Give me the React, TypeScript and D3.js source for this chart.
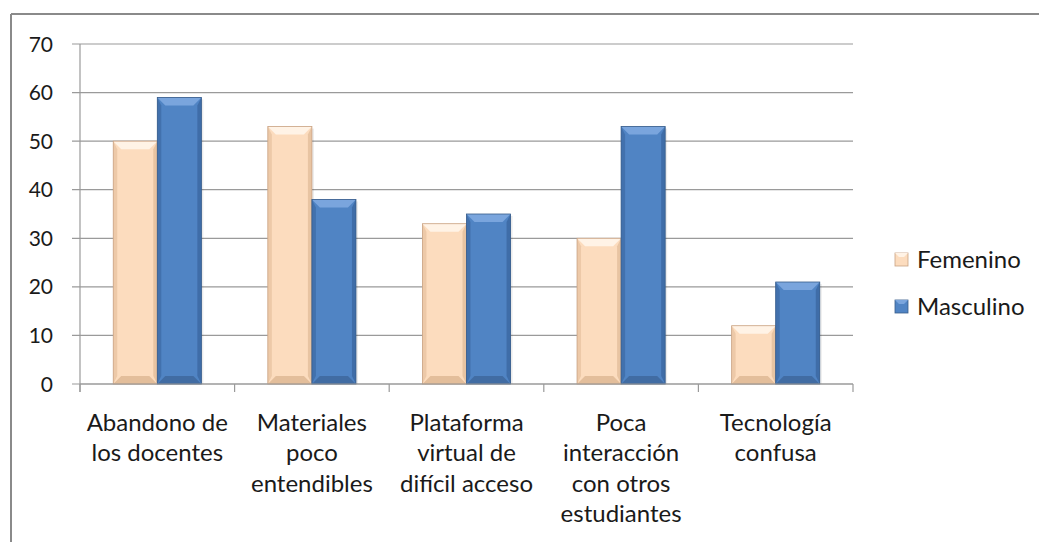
import React from "react";
import * as d3 from "d3";

const categories: string[][] = [
  ["Abandono de", "los docentes"],
  ["Materiales", "poco", "entendibles"],
  ["Plataforma", "virtual de", "difícil acceso"],
  ["Poca", "interacción", "con otros", "estudiantes"],
  ["Tecnología", "confusa"],
];
const femenino = [50, 53, 33, 30, 12];
const masculino = [59, 38, 35, 53, 21];
const seriesNames = ["Femenino", "Masculino"];
const yTicks = [0, 10, 20, 30, 40, 50, 60, 70];

const W = 1039;
const H = 542;
const plot = { left: 80, right: 853, top: 44, bottom: 384 };
const FONT = "Lato, 'Open Sans', sans-serif";

const styles = [
  { main: "#FCDCBE", top: "#FFF3E6", side: "#E8C4A2", bottom: "#D9B08C", edge: "#C9A283" },
  { main: "#5084C4", top: "#7AA5DD", side: "#3F6DA8", bottom: "#3A6396", edge: "#385D8A" },
];

function Bar({ x, y, w, h, s }: { x: number; y: number; w: number; h: number; s: number }) {
  const st = styles[s];
  const b = Math.min(8, h / 2);
  const sb = Math.min(4, w / 4);
  return (
    <g>
      <rect x={x + 2} y={y + 2} width={w} height={h - 2} fill="#000" opacity={0.08} />
      <rect x={x} y={y} width={w} height={h} fill={st.main} />
      <polygon points={`${x},${y} ${x + w},${y} ${x + w - b},${y + b} ${x + b},${y + b}`} fill={st.top} />
      <polygon points={`${x},${y} ${x + sb},${y + b} ${x + sb},${y + h - b} ${x},${y + h}`} fill={st.side} opacity={0.8} />
      <polygon points={`${x + w},${y} ${x + w - sb},${y + b} ${x + w - sb},${y + h - b} ${x + w},${y + h}`} fill={st.side} />
      <polygon points={`${x},${y + h} ${x + w},${y + h} ${x + w - b},${y + h - b} ${x + b},${y + h - b}`} fill={st.bottom} opacity={0.7} />
      <rect x={x} y={y} width={w} height={h} fill="none" stroke={st.edge} strokeWidth={0.8} />
    </g>
  );
}

export default function App() {
  const y = d3.scaleLinear().domain([0, 70]).range([plot.bottom, plot.top]);
  const x0 = d3
    .scaleBand<number>()
    .domain(categories.map((_, i) => i))
    .range([plot.left, plot.right])
    .paddingInner(0)
    .paddingOuter(0);
  const bw = x0.bandwidth();
  const groupW = bw * 0.57;
  const x1 = d3.scaleBand<number>().domain([0, 1]).range([0, groupW]);
  const series = [femenino, masculino];
  const tickXs = d3.range(categories.length + 1).map((i) => plot.left + i * bw);

  return (
    <svg
      width={W}
      height={H}
      style={{ position: "absolute", left: 0, top: 0, background: "#fff" }}
      fontFamily={FONT}
    >
      <line x1={11} y1={14} x2={W} y2={14} stroke="#8a8a8a" strokeWidth={2} />
      <line x1={11} y1={14} x2={11} y2={H} stroke="#8a8a8a" strokeWidth={2} />

      {yTicks.map((t) => (
        <g key={t}>
          <line x1={plot.left - 8} x2={plot.right} y1={y(t)} y2={y(t)} stroke="#9a9a9a" strokeWidth={1.2} />
          <text x={53} y={y(t)} dy="0.36em" textAnchor="end" fontSize={21} fill="#1a1a1a">
            {t}
          </text>
        </g>
      ))}
      <line x1={plot.left} x2={plot.left} y1={plot.top} y2={plot.bottom + 8} stroke="#9a9a9a" strokeWidth={1.2} />
      {tickXs.map((tx, i) => (
        <line key={i} x1={tx} x2={tx} y1={plot.bottom} y2={plot.bottom + 8} stroke="#9a9a9a" strokeWidth={1.2} />
      ))}

      {categories.map((_, i) => {
        const gx = (x0(i) as number) + (bw - groupW) / 2;
        return series.map((vals, s) => {
          const bx = gx + (x1(s) as number);
          const by = y(vals[i]);
          return <Bar key={`${i}-${s}`} x={bx} y={by} w={x1.bandwidth()} h={plot.bottom - by} s={s} />;
        });
      })}
      <line x1={plot.left} x2={plot.right} y1={plot.bottom} y2={plot.bottom} stroke="#9a9a9a" strokeWidth={1.2} />

      {categories.map((lines, i) => {
        const cx = (x0(i) as number) + bw / 2;
        return (
          <text key={i} textAnchor="middle" fontSize={24} fill="#1a1a1a">
            {lines.map((l, j) => (
              <tspan key={j} x={cx} y={422 + j * 30.5} dy="0.36em">
                {l}
              </tspan>
            ))}
          </text>
        );
      })}

      {seriesNames.map((n, s) => {
        const ly = 259 + s * 47;
        const st = styles[s];
        return (
          <g key={n}>
            <rect x={895} y={ly - 6} width={13} height={13} fill={st.main} stroke={st.edge} strokeWidth={0.8} />
            <polygon points={`${895},${ly - 6} ${908},${ly - 6} ${904},${ly - 2} ${899},${ly - 2}`} fill={st.top} />
            <text x={917} y={ly} dy="0.36em" fontSize={24} fill="#1a1a1a">
              {n}
            </text>
          </g>
        );
      })}
    </svg>
  );
}
